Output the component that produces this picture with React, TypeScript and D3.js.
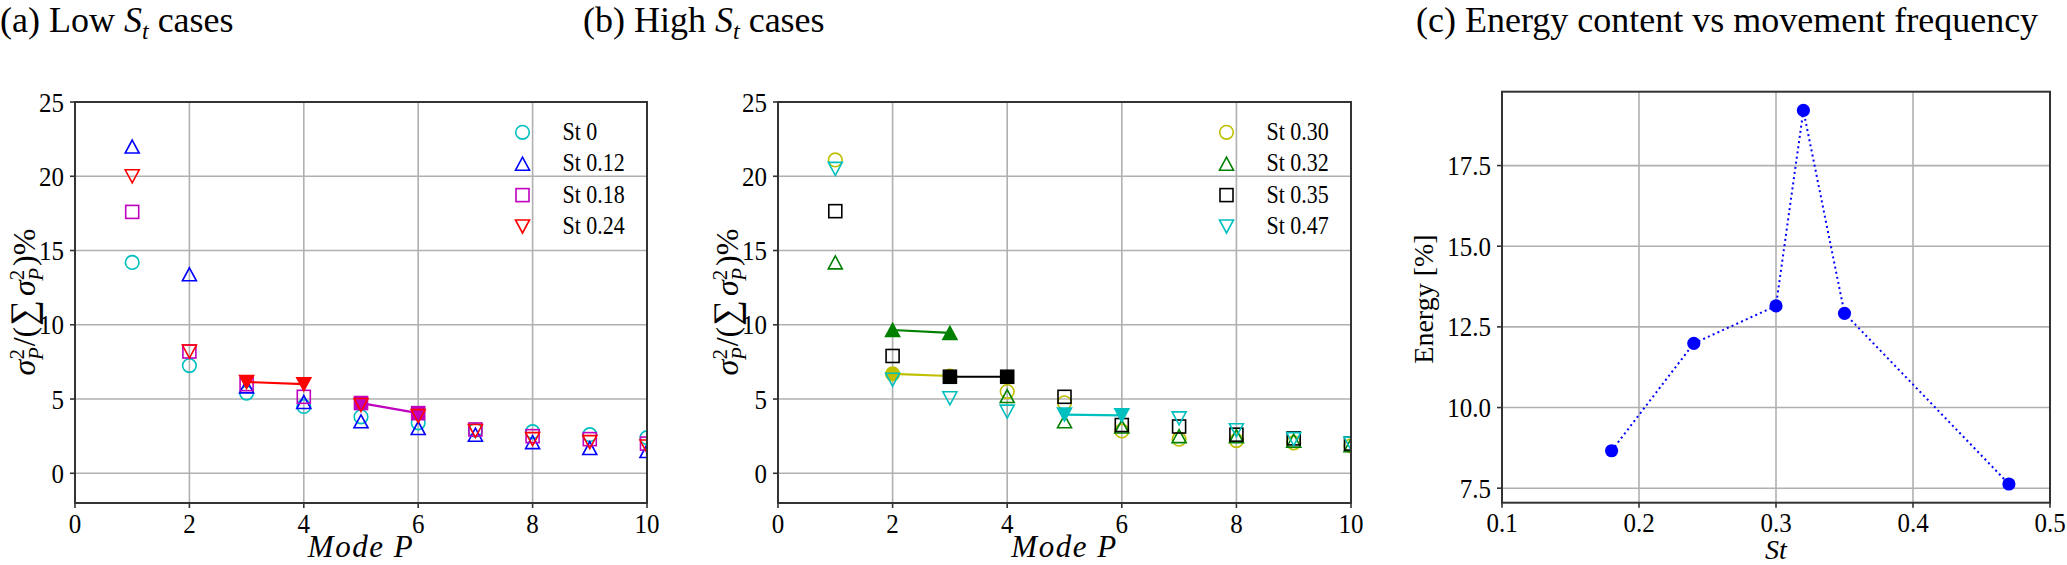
import { useEffect, useRef } from 'react';
import * as d3 from 'd3';

// Mode numbers on the x axis of panels (a) and (b)
const modes = [1, 2, 3, 4, 5, 6, 7, 8, 9, 10];

// (a) low St cases, percent energy per mode
const lowLabels = ['St 0', 'St 0.12', 'St 0.18', 'St 0.24'];
const lowSt0 = [14.2, 7.25, 5.4, 4.5, 3.8, 3.4, 2.9, 2.8, 2.6, 2.4];
const lowSt012 = [22.0, 13.4, 5.85, 4.8, 3.5, 3.05, 2.6, 2.1, 1.7, 1.5];
const lowSt018 = [17.6, 8.2, 6.0, 5.15, 4.73, 4.05, 2.95, 2.5, 2.3, 2.0];
const lowSt024 = [20.0, 8.2, 6.15, 6.0, 4.6, 3.85, 2.85, 2.3, 2.1, 1.8];
// modes drawn filled and joined by a line
const lowFilled = [[], [], [5, 6], [3, 4]];

// (b) high St cases
const highLabels = ['St 0.30', 'St 0.32', 'St 0.35', 'St 0.47'];
const highSt030 = [21.1, 6.7, 6.55, 5.5, 4.75, 2.85, 2.3, 2.2, 2.05, 1.85];
const highSt032 = [14.2, 9.65, 9.45, 5.2, 3.5, 3.15, 2.5, 2.5, 2.2, 1.9];
const highSt035 = [17.65, 7.9, 6.5, 6.5, 5.15, 3.25, 3.15, 2.6, 2.35, 2.0];
const highSt047 = [20.5, 6.3, 5.05, 4.15, 3.95, 3.9, 3.7, 2.9, 2.3, 2.0];
const highFilled = [[2, 3], [2, 3], [3, 4], [5, 6]];

// (c) energy content vs St
const stValues = [0.18, 0.24, 0.3, 0.32, 0.35, 0.47];
const energyValues = [8.66, 11.99, 13.15, 19.21, 12.92, 7.63];

const modeTicks = [0, 2, 4, 6, 8, 10];
const sigmaTicks = [0, 5, 10, 15, 20, 25];
const stTicks = [0.1, 0.2, 0.3, 0.4, 0.5];
const energyTicks = [7.5, 10, 12.5, 15, 17.5];

const lowColors = ['#00bfbf', '#0000ff', '#bf00bf', '#ff0000'];
const lowMarkers = ['o', '^', 's', 'v'];
const highColors = ['#bfbf00', '#008000', '#000000', '#00bfbf'];
const highMarkers = ['o', '^', 's', 'v'];

const FONT = "'Liberation Serif', 'DejaVu Serif', serif";
const STRETCH = 1.12;

type Sel = d3.Selection<SVGGElement, unknown, null, undefined>;

function marker(g: Sel, kind: string, x: number, y: number, color: string, filled: boolean) {
  const fill = filled ? color : 'none';
  let el;
  if (kind === 'o') {
    el = g.append('circle').attr('cx', x).attr('cy', y).attr('r', 6.8);
  } else if (kind === 's') {
    el = g.append('rect').attr('x', x - 6.5).attr('y', y - 6.5).attr('width', 13).attr('height', 13);
  } else if (kind === '^') {
    el = g.append('path').attr('d', `M${x},${y - 6.5}L${x + 7},${y + 6.5}L${x - 7},${y + 6.5}Z`);
  } else {
    el = g.append('path').attr('d', `M${x},${y + 6.5}L${x + 7},${y - 6.5}L${x - 7},${y - 6.5}Z`);
  }
  el.attr('fill', fill).attr('stroke', color).attr('stroke-width', 1.6);
}

function stretchedText(g: Sel, x: number, y: number, txt: string, size: number, anchor: string) {
  return g.append('text')
    .attr('transform', `translate(${x},${y}) scale(1,${STRETCH})`)
    .attr('text-anchor', anchor)
    .style('font-family', FONT)
    .style('font-size', `${size}px`)
    .style('fill', '#000')
    .text(txt);
}

function frame(
  g: Sel,
  x: d3.ScaleLinear<number, number>,
  y: d3.ScaleLinear<number, number>,
  xTicks: number[],
  yTicks: number[],
  xFmt: (v: number) => string,
  yFmt: (v: number) => string,
) {
  const [x0, x1] = x.range();
  const [y0, y1] = y.range();
  const grid = g.append('g');
  xTicks.forEach(t => {
    grid.append('line').attr('x1', x(t)).attr('x2', x(t)).attr('y1', y1).attr('y2', y0)
      .attr('stroke', '#b0b0b0').attr('stroke-width', 1.6);
  });
  yTicks.forEach(t => {
    grid.append('line').attr('x1', x0).attr('x2', x1).attr('y1', y(t)).attr('y2', y(t))
      .attr('stroke', '#b0b0b0').attr('stroke-width', 1.6);
  });
  return () => {
    g.append('rect').attr('x', x0).attr('y', y1).attr('width', x1 - x0).attr('height', y0 - y1)
      .attr('fill', 'none').attr('stroke', '#333').attr('stroke-width', 2);
    xTicks.forEach(t => {
      g.append('line').attr('x1', x(t)).attr('x2', x(t)).attr('y1', y0).attr('y2', y0 + 5)
        .attr('stroke', '#333').attr('stroke-width', 1.6);
      stretchedText(g, x(t), y0 + 29.5, xFmt(t), 25, 'middle');
    });
    yTicks.forEach(t => {
      g.append('line').attr('x1', x0 - 5).attr('x2', x0).attr('y1', y(t)).attr('y2', y(t))
        .attr('stroke', '#333').attr('stroke-width', 1.6);
      stretchedText(g, x0 - 11, y(t) + 9.5, yFmt(t), 25, 'end');
    });
  };
}

function sigmaLabel(g: Sel, cx: number, cy: number) {
  const t = g.append('text')
    .attr('transform', `translate(${cx},${cy}) rotate(-90)`)
    .attr('text-anchor', 'middle')
    .style('font-family', FONT)
    .style('font-size', '32px');
  const part = (s: string, opts: { it?: boolean; size?: number; dx?: number; dy?: number }) => {
    const sp = t.append('tspan').text(s);
    if (opts.it) sp.style('font-style', 'italic');
    if (opts.size) sp.style('font-size', `${opts.size}px`);
    if (opts.dx) sp.attr('dx', opts.dx);
    if (opts.dy) sp.attr('dy', opts.dy);
  };
  part('σ', { it: true });
  part('2', { size: 21, dy: -11 });
  part('P', { it: true, size: 21, dx: -11, dy: 19 });
  part('/(', { dy: -8, dx: 1 });
  part('∑', { size: 36, dx: 1 });
  part('σ', { it: true, dx: 4 });
  part('2', { size: 21, dy: -11 });
  part('P', { it: true, size: 21, dx: -11, dy: 19 });
  part(')%', { dy: -8, dx: 2 });
}

function title(svg: d3.Selection<SVGSVGElement, unknown, null, undefined>, x: number, pre: string, post: string) {
  const t = svg.append('text').attr('x', x).attr('y', 32)
    .style('font-family', FONT).style('font-size', '36px');
  t.append('tspan').text(pre);
  t.append('tspan').style('font-style', 'italic').text('S');
  t.append('tspan').style('font-size', '24px').style('font-style', 'italic').attr('dy', 7).text('t');
  t.append('tspan').attr('dy', -7).text(post);
}

export default function App() {
  const svgRef = useRef<SVGSVGElement>(null);

  useEffect(() => {
    document.body.style.margin = '0';
    if (!svgRef.current) return;
    const svg = d3.select(svgRef.current);
    svg.selectAll('*').remove();

    const defs = svg.append('defs');

    const modePanel = (
      id: string,
      left: number,
      right: number,
      series: number[][],
      filled: number[][],
      labels: string[],
      colors: string[],
      markers: string[],
    ) => {
      const x = d3.scaleLinear().domain([0, 10]).range([left, right]);
      const y = d3.scaleLinear().domain([-2, 25]).range([503, 102]);
      const g = svg.append('g') as unknown as Sel;
      const finish = frame(g, x, y, modeTicks, sigmaTicks, d => d3.format('d')(d), d => d3.format('d')(d));

      defs.append('clipPath').attr('id', id).append('rect')
        .attr('x', left).attr('y', 102).attr('width', right - left).attr('height', 401);
      const data = g.append('g').attr('clip-path', `url(#${id})`) as unknown as Sel;

      series.forEach((vals, si) => {
        const fm = filled[si];
        modes.forEach((m, i) => {
          if (!fm.includes(m)) marker(data, markers[si], x(m), y(vals[i]), colors[si], false);
        });
        if (fm.length) {
          const pts = fm.map(m => [m, vals[modes.indexOf(m)]] as [number, number]);
          data.append('path').datum(pts)
            .attr('fill', 'none').attr('stroke', colors[si]).attr('stroke-width', 2.2)
            .attr('d', d3.line<[number, number]>().x(d => x(d[0])).y(d => y(d[1])));
          pts.forEach(p => marker(data, markers[si], x(p[0]), y(p[1]), colors[si], true));
        }
      });

      finish();

      // legend
      labels.forEach((lab, i) => {
        const ly = 132.3 + i * 31.4;
        marker(g, markers[i], right - 124.5, ly, colors[i], false);
        stretchedText(g, right - 84.5, ly + 7.5, lab, 22, 'start');
      });

      g.append('text').attr('x', (left + right) / 2).attr('y', 557)
        .attr('text-anchor', 'middle').style('font-family', FONT).style('font-size', '31px')
        .style('font-style', 'italic').style('letter-spacing', '1.5px')
        .text('Mode P');

      sigmaLabel(g, left - 40, 302);
    };

    modePanel('clipA', 75, 647, [lowSt0, lowSt012, lowSt018, lowSt024], lowFilled, lowLabels, lowColors, lowMarkers);
    modePanel('clipB', 778, 1351, [highSt030, highSt032, highSt035, highSt047], highFilled, highLabels, highColors, highMarkers);

    // panel (c)
    const xc = d3.scaleLinear().domain([0.1, 0.5]).range([1502, 2050]);
    const yc = d3.scaleLinear().domain([7.05, 19.79]).range([502.7, 91.7]);
    const gc = svg.append('g') as unknown as Sel;
    const finishC = frame(gc, xc, yc, stTicks, energyTicks, d => d3.format('.1f')(d), d => d3.format('.1f')(d));
    const pts = stValues.map((s, i) => [s, energyValues[i]] as [number, number]);
    gc.append('path').datum(pts)
      .attr('fill', 'none').attr('stroke', '#0000ff').attr('stroke-width', 2)
      .attr('stroke-dasharray', '2,3.2')
      .attr('d', d3.line<[number, number]>().x(d => xc(d[0])).y(d => yc(d[1])));
    gc.selectAll('circle.pt').data(pts).enter().append('circle')
      .attr('cx', d => xc(d[0])).attr('cy', d => yc(d[1])).attr('r', 6.6)
      .attr('fill', '#0000ff');
    finishC();

    gc.append('text').attr('x', 1776).attr('y', 559).attr('text-anchor', 'middle')
      .style('font-family', FONT).style('font-size', '28px').style('font-style', 'italic').text('St');
    gc.append('text').attr('transform', 'translate(1433,299) rotate(-90)').attr('text-anchor', 'middle')
      .style('font-family', FONT).style('font-size', '28px').text('Energy [%]');

    title(svg, 0, '(a) Low ', ' cases');
    title(svg, 583, '(b) High ', ' cases');
    svg.append('text').attr('x', 1416).attr('y', 32)
      .style('font-family', FONT).style('font-size', '36px')
      .text('(c) Energy content vs movement frequency');
  }, []);

  return (
    <svg ref={svgRef} width={2067} height={565} style={{ display: 'block', background: '#fff' }} />
  );
}
